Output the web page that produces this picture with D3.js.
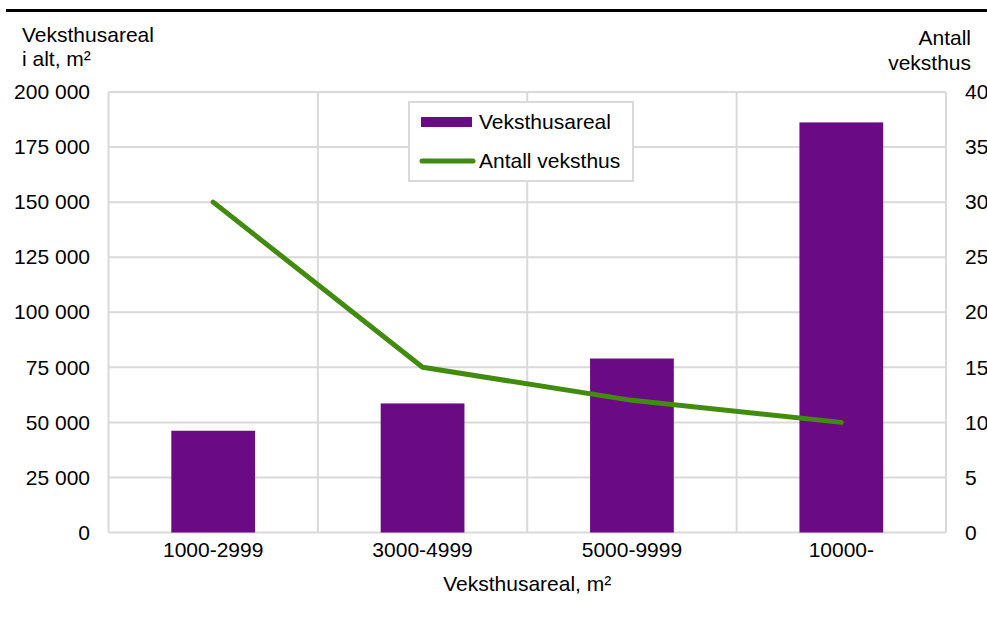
<!DOCTYPE html>
<html>
<head>
<meta charset="utf-8" />
<script src="https://cdn.jsdelivr.net/npm/d3@7"></script>
<style>
body {
  margin: 0;
  background: #fff;
  font-family: "Liberation Sans", Arial, Helvetica, sans-serif;
}
svg text {
  font-size: 21px;
  fill: #000;
}
.grid line {
  stroke: #d9d9d9;
  stroke-width: 2px;
}
</style>
</head>
<body>
<script>
// data
var categories = ["1000-2999", "3000-4999", "5000-9999", "10000-"];
var areal = [46200, 58600, 79000, 186200];   // Veksthusareal i alt, m2
var antall = [30, 15, 12, 10];               // Antall veksthus
var leftTicks = [0, 25000, 50000, 75000, 100000, 125000, 150000, 175000, 200000];
var rightTicks = [0, 5, 10, 15, 20, 25, 30, 35, 40];

var width = 987, height = 617;
// plot area (note: "top" is a reserved window property, so use other names)
var plotLeft = 108.5, plotRight = 946, plotTop = 92, plotBottom = 532.5;

var purple = "#6a0a84";
var green = "#418b0e";

var svg = d3.select("body").append("svg")
  .attr("width", width)
  .attr("height", height);

// rule at the top
svg.append("line")
  .attr("x1", 6).attr("x2", width)
  .attr("y1", 10.5).attr("y2", 10.5)
  .attr("stroke", "#000")
  .attr("stroke-width", 3);

var x = d3.scaleBand()
  .domain(categories)
  .range([plotLeft, plotRight]);

var y = d3.scaleLinear().domain([0, 200000]).range([plotBottom, plotTop]);
var y2 = d3.scaleLinear().domain([0, 40]).range([plotBottom, plotTop]);

var fmt = function(d) { return d3.format(",")(d).replace(/,/g, " "); };

/* ------- GRID ------- */
var grid = svg.append("g").attr("class", "grid");
grid.selectAll("line.h")
  .data(leftTicks)
  .enter().append("line")
  .attr("class", "h")
  .attr("x1", plotLeft).attr("x2", plotRight)
  .attr("y1", function(d) { return y(d); })
  .attr("y2", function(d) { return y(d); });

var bounds = categories.map(function(c) { return x(c); }).concat([plotRight]);
grid.selectAll("line.v")
  .data(bounds)
  .enter().append("line")
  .attr("class", "v")
  .attr("x1", function(d) { return d; })
  .attr("x2", function(d) { return d; })
  .attr("y1", plotTop).attr("y2", plotBottom);

/* ------- AXES ------- */
var leftAxis = svg.append("g")
  .attr("transform", "translate(90,0)")
  .call(d3.axisLeft(y).tickValues(leftTicks).tickFormat(fmt).tickSize(0).tickPadding(0));
leftAxis.select(".domain").remove();

var rightAxis = svg.append("g")
  .attr("transform", "translate(965,0)")
  .call(d3.axisRight(y2).tickValues(rightTicks).tickSize(0).tickPadding(0));
rightAxis.select(".domain").remove();

var bottomAxis = svg.append("g")
  .attr("transform", "translate(0," + plotBottom + ")")
  .call(d3.axisBottom(x).tickSize(0).tickPadding(10));
bottomAxis.select(".domain").remove();

svg.selectAll(".tick text")
  .attr("font-family", "'Liberation Sans', Arial, sans-serif")
  .attr("font-size", 21)
  .attr("fill", "#000");

/* ------- BARS ------- */
var bw = x.bandwidth() * 0.4;
svg.append("g").selectAll("rect")
  .data(areal)
  .enter().append("rect")
  .attr("x", function(d, i) { return x(categories[i]) + x.bandwidth() / 2 - bw / 2; })
  .attr("y", function(d) { return y(d); })
  .attr("width", bw)
  .attr("height", function(d) { return y(0) - y(d); })
  .attr("fill", purple);

/* ------- LINE ------- */
var line = d3.line()
  .x(function(d, i) { return x(categories[i]) + x.bandwidth() / 2; })
  .y(function(d) { return y2(d); });

svg.append("path")
  .datum(antall)
  .attr("d", line)
  .attr("fill", "none")
  .attr("stroke", green)
  .attr("stroke-width", 5)
  .attr("stroke-linecap", "round")
  .attr("stroke-linejoin", "round");

/* ------- TITLES ------- */
svg.append("text").attr("x", 22).attr("y", 42).text("Veksthusareal");
svg.append("text").attr("x", 22).attr("y", 66).text("i alt, m²");

svg.append("text").attr("x", 971).attr("y", 45).attr("text-anchor", "end").text("Antall");
svg.append("text").attr("x", 971).attr("y", 70).attr("text-anchor", "end").text("veksthus");

svg.append("text")
  .attr("x", (plotLeft + plotRight) / 2)
  .attr("y", 591)
  .attr("text-anchor", "middle")
  .text("Veksthusareal, m²");

/* ------- LEGEND ------- */
var legend = svg.append("g").attr("transform", "translate(409,102)");
legend.append("rect")
  .attr("width", 224).attr("height", 79)
  .attr("fill", "#fff")
  .attr("stroke", "#d9d9d9")
  .attr("stroke-width", 2);
legend.append("rect")
  .attr("x", 12).attr("y", 15)
  .attr("width", 51).attr("height", 10)
  .attr("fill", purple);
legend.append("text").attr("x", 70).attr("y", 27).text("Veksthusareal");
legend.append("line")
  .attr("x1", 13).attr("x2", 64)
  .attr("y1", 59).attr("y2", 59)
  .attr("stroke", green)
  .attr("stroke-width", 5)
  .attr("stroke-linecap", "round");
legend.append("text").attr("x", 70).attr("y", 66).text("Antall veksthus");
</script>
</body>
</html>
